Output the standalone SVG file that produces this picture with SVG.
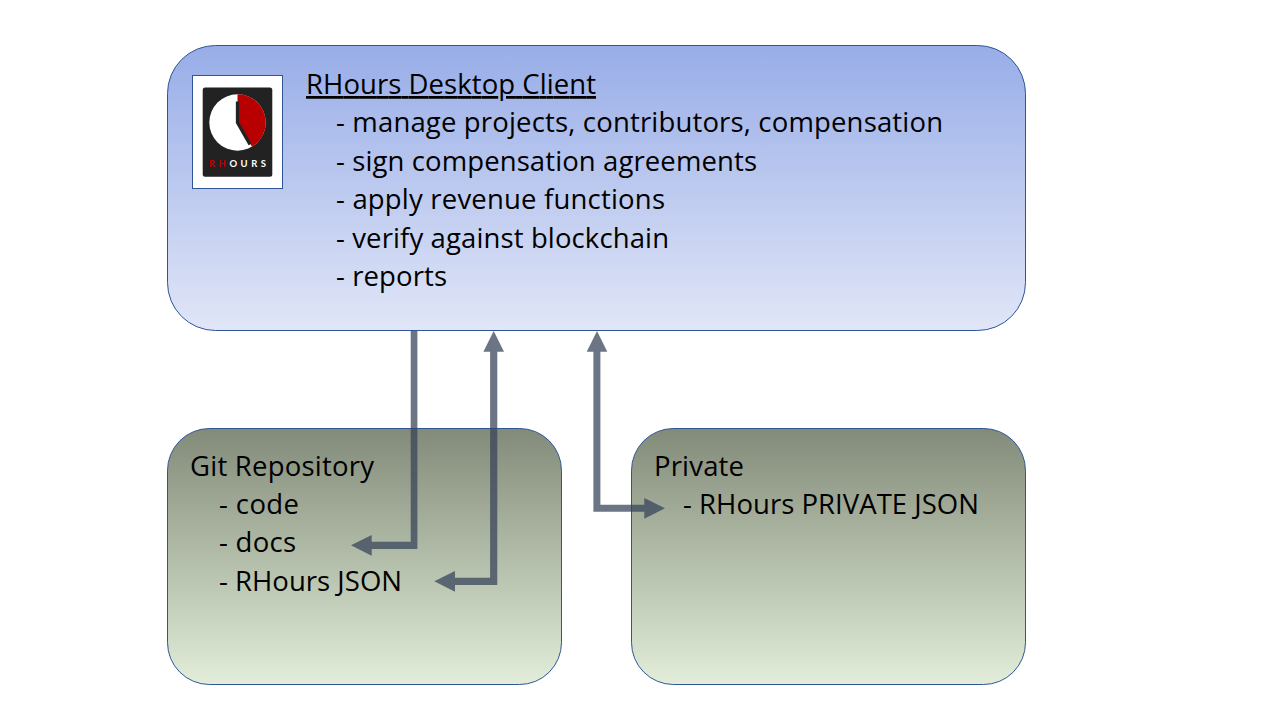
<svg xmlns="http://www.w3.org/2000/svg" width="1280" height="720" viewBox="0 0 1280 720">
<style>
.box{stroke:#2f5597;stroke-width:1}
.t{font-family:"Open Sans","Noto Sans","DejaVu Sans",sans-serif;font-size:27.5px;fill:#000}
.c{fill:#354258;fill-opacity:.73}
</style>
<defs>
<linearGradient id="blue" x1="0" y1="0" x2="0" y2="1"><stop offset="0" stop-color="#98ade8"/><stop offset="1" stop-color="#e1e6f7"/></linearGradient>
<linearGradient id="green" x1="0" y1="0" x2="0" y2="1"><stop offset="0" stop-color="#828b79"/><stop offset="1" stop-color="#e2eed9"/></linearGradient>
</defs>
<rect width="1280" height="720" fill="#fff"/>
<g id="desktop-client">
<rect class="box" x="167.5" y="45.5" width="858" height="285" rx="48" fill="url(#blue)"/>
<g id="logo">
<rect x="192.5" y="75.5" width="90" height="113" fill="#fff" stroke="#2f5597"/>
<rect x="202.7" y="87.5" width="69.6" height="89.2" rx="2.5" fill="#222"/>
<circle cx="237.5" cy="122.5" r="28.2" fill="#fff"/>
<path d="M237.5 122.5V94.3A28.2 28.2 0 0 1 252 146.7Z" fill="#b90000"/>
<path d="M237.5 101.5V122.5L250 144.5" fill="none" stroke="#222" stroke-width="3.3"/>
<text x="209" y="167" font-family="Lato,'Liberation Sans',sans-serif" font-size="9.5" font-weight="700" textLength="57" fill="#fff"><tspan fill="#c00000">RH</tspan>OURS</text>
</g>
<text class="t" x="306" y="94" text-decoration="underline" textLength="290">RHours Desktop Client</text>
<text class="t" x="336" y="132" textLength="607">- manage projects, contributors, compensation</text>
<text class="t" x="336" y="171" textLength="421">- sign compensation agreements</text>
<text class="t" x="336" y="209" textLength="329">- apply revenue functions</text>
<text class="t" x="336" y="248" textLength="333">- verify against blockchain</text>
<text class="t" x="336" y="286" textLength="111">- reports</text>
</g>
<g id="git-repository">
<rect class="box" x="167.5" y="428.5" width="394" height="256" rx="42" fill="url(#green)"/>
<text class="t" x="190" y="476" textLength="184">Git Repository</text>
<text class="t" x="219" y="514" textLength="80">- code</text>
<text class="t" x="219" y="552" textLength="77">- docs</text>
<text class="t" x="219" y="591" textLength="183">- RHours JSON</text>
</g>
<g id="private">
<rect class="box" x="631.5" y="428.5" width="394" height="256" rx="42" fill="url(#green)"/>
<text class="t" x="654" y="476" textLength="90">Private</text>
<text class="t" x="683" y="514" textLength="296">- RHours PRIVATE JSON</text>
</g>
<g id="connectors">
<path class="c" d="M410.7 331H417.4V549H371.7V555.7L351 545.3 371.7 535V541.8H410.7Z"/>
<path class="c" d="M493.7 331L504 351.7H497.3V585H455V591.7L434.3 581.3 455 571V577.7H490.1V351.7H483.4Z"/>
<path class="c" d="M597 331L607.3 351.7H600.4V504.8H644.3V498L665 508.3 644.3 518.7V511.7H593.4V351.7H586.7Z"/>
</g>
</svg>
